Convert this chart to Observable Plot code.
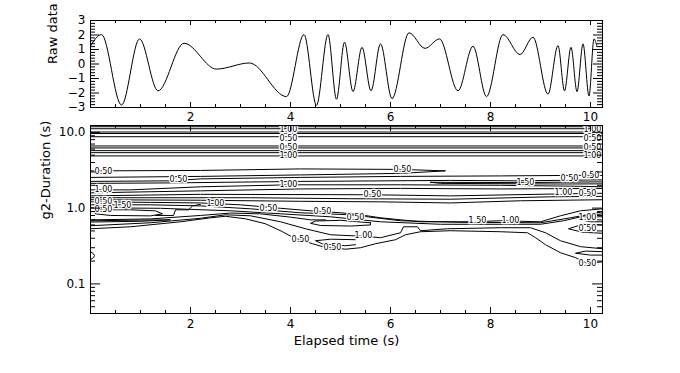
<!DOCTYPE html>
<html><head><meta charset="utf-8">
<script src="https://cdn.jsdelivr.net/npm/d3@7"></script>
<script src="https://cdn.jsdelivr.net/npm/@observablehq/plot@0.6"></script>
<style>
body{margin:0;background:#fff;}
#wrap{position:relative;width:680px;height:373px;background:#fff;overflow:hidden;}
#topPanel,#bottomPanel{position:absolute;left:0;}
#topPanel{top:0;}
#bottomPanel{top:122px;}
</style></head>
<body><div id="wrap"><div id="bottomPanel"></div><div id="topPanel"></div></div>
<script>
// ---------- data ----------
const rawTime  = [0, 0.22, 0.62, 0.98, 1.35, 1.87, 2.52, 3.18, 3.92, 4.27, 4.52, 4.75, 4.92, 5.08, 5.25, 5.43, 5.61, 5.80, 6.03, 6.37, 6.69, 6.98, 7.35, 7.65, 7.92, 8.25, 8.59, 8.85, 9.15, 9.35, 9.48, 9.61, 9.73, 9.85, 9.97, 10.07, 10.13];
const rawValue = [1.25, 2.03, -2.83, 1.73, -1.85, 1.43, -0.35, 0.07, -2.25, 2.03, -2.85, 2.03, -2.43, 1.5, -1.9, 1.15, -1.85, 1.39, -2.39, 2.15, 1.08, 1.73, -1.85, 1.22, -2.25, 2.03, 0.65, 1.85, -2.08, 1.27, -1.85, 1.15, -1.9, 1.39, -2.2, 1.73, 1.2];

const xMajorTicks = [2, 4, 6, 8, 10];
const xMinorTicks = [0.5, 1, 1.5, 2.5, 3, 3.5, 4.5, 5, 5.5, 6.5, 7, 7.5, 8.5, 9, 9.5];
const rawYTicks = [-3, -2, -1, 0, 1, 2, 3];
const rawYMinor = [-2.8, -2.6, -2.4, -2.2, -1.8, -1.6, -1.4, -1.2, -0.8, -0.6, -0.4, -0.2, 0.2, 0.4, 0.6, 0.8, 1.2, 1.4, 1.6, 1.8, 2.2, 2.4, 2.6, 2.8];
const durMajorTicks = [0.1, 1, 10];
const durMinorTicks = [0.05, 0.06, 0.07, 0.08, 0.09, 0.2, 0.3, 0.4, 0.5, 0.6, 0.7, 0.8, 0.9, 2, 3, 4, 5, 6, 7, 8, 9];

// straight contour levels across the whole record (durations, s)
const bandDurations = [11.85, 11.15, 10.09, 9.64, 8.75, 6.60, 6.22, 5.73, 5.39, 4.88];

// contour paths: [time, duration]
const upperContours = [
  [[0,3.10],[2.2,3.14],[4.2,3.29],[6.2,3.24],[7.1,3.10],[6.2,2.87],[4.2,2.74],[2.2,2.62],[0,2.54]],
  [[0,2.25],[1.6,2.29],[2.2,2.43],[4.2,2.54],[6.2,2.62],[8.2,2.66],[9.6,2.70],[10.24,2.70]],
  [[0,2.12],[1.6,2.15],[4.2,2.25],[7.2,2.32],[8.6,2.29],[10.24,2.36]],
  [[6.8,2.19],[8.6,2.17],[10.24,2.22],[10.24,2.09],[9.4,2.08],[7.0,2.12],[6.8,2.19]],
  [[0,1.74],[0.8,1.74],[2.2,1.91],[4.0,2.03],[6.2,2.03],[8.2,2.0],[9.8,1.94],[10.24,1.91]],
  [[0,1.59],[2.2,1.69],[4.2,1.79],[6.2,1.82],[8.2,1.79],[10.24,1.82]],
  [[0,1.45],[2.2,1.52],[5.6,1.50],[7.2,1.45],[9.4,1.54],[10.24,1.57]],
  [[0,1.37],[3.2,1.37],[5.2,1.33],[7.2,1.31],[9.2,1.41],[10.24,1.43]],
  [[0,1.29],[2.2,1.27],[4.2,1.23],[5.8,1.21],[7.2,1.17],[8.6,1.25],[10.24,1.29]]
];
const middleContours = [
  [[0,1.21],[1.2,1.19],[2.2,1.17],[3.0,1.105],[3.8,0.994],[4.4,0.922],[5.0,0.868],[5.4,0.816],[5.8,0.745],[6.6,0.660],[7.6,0.660],[8.2,0.681],[9.0,0.660],[9.4,0.792],[9.8,0.922],[10.24,0.979]],
  [[0,1.105],[1.2,1.105],[2.2,1.07],[3.2,0.979],[4.2,0.868],[5.2,0.816],[6.2,0.681],[7.4,0.65],[9.0,0.641],[9.6,0.745],[10.24,0.894]],
  [[0,1.01],[1.4,0.994],[2.8,0.922],[3.8,0.841],[4.8,0.768],[5.8,0.660],[7.0,0.612],[9.0,0.612],[9.46,0.681],[9.9,0.792],[10.24,0.841]],
  [[0,0.70],[1.2,0.72],[2.2,0.80],[2.8,0.86],[3.4,0.84],[4.0,0.76],[4.4,0.70],[4.7,0.70]],
  [[0,0.655],[1.0,0.67],[1.6,0.70],[1.0,0.695],[0,0.68]],
  [[0.1,0.95],[0.8,0.95],[1.3,0.92],[1.44,0.84],[1.2,0.79],[0.4,0.80],[0.1,0.84],[0.1,0.95]],
  [[1.3,0.80],[1.66,0.80],[1.7,0.95],[1.96,0.95],[2.04,1.07],[2.2,1.12]],
  [[5.6,0.64],[5.0,0.69],[4.5,0.675],[4.4,0.63],[4.6,0.59],[5.2,0.58],[5.6,0.60],[5.6,0.64]],
  [[10.24,0.768],[9.96,0.768],[9.8,0.702],[10.0,0.66],[10.24,0.66]],
  [[10.24,0.60],[9.84,0.61],[9.56,0.534],[9.84,0.48],[10.24,0.466]]
];
const lowerContours = [
  [[0,0.534],[0.8,0.567],[1.8,0.660],[2.4,0.745],[2.7,0.780],[3.1,0.723],[3.5,0.621],[3.84,0.488],[4.06,0.407],[4.44,0.339],[4.64,0.310],[5.1,0.287],[5.4,0.300],[5.7,0.339],[6.1,0.383],[6.3,0.445],[6.6,0.488],[7.2,0.503],[8.2,0.488],[8.74,0.473],[8.9,0.407],[9.1,0.329],[9.4,0.258],[9.7,0.222],[9.94,0.185],[10.24,0.196]],
  [[0,0.585],[1.2,0.641],[2.2,0.734],[2.7,0.816],[3.2,0.792],[3.8,0.660],[4.3,0.534],[4.8,0.445],[5.46,0.425],[5.8,0.407],[6.2,0.473],[6.26,0.567],[6.54,0.567],[6.6,0.503],[7.14,0.534],[8.2,0.551],[8.8,0.551],[9.1,0.473],[9.4,0.371],[9.8,0.310],[10.24,0.291]],
  [[5.3,0.383],[4.8,0.389],[4.5,0.371],[4.64,0.337],[5.1,0.319],[5.3,0.329]],
  [[10.24,0.266],[9.9,0.271],[9.7,0.254],[10.0,0.240],[10.24,0.240]],
  [[0,0.266],[0.06,0.25],[0.08,0.236],[0.06,0.222],[0,0.209]]
];
const contourLabels = [
  [3.96, 11.05, "1.00"], [3.96, 8.41, "0.50"], [3.96, 6.41, "0.50"], [3.96, 4.88, "1.00"],
  [10.04, 11.05, "1.00"], [10.04, 8.41, "0.50"], [10.04, 6.41, "0.50"], [10.04, 4.88, "1.00"],
  [0.26, 3.05, "0.50"], [1.76, 2.36, "0.50"], [6.24, 3.24, "0.50"],
  [0.26, 1.74, "1.00"], [3.96, 2.03, "1.00"], [5.64, 1.50, "0.50"],
  [8.7, 2.15, "1.50"], [10.0, 2.66, "0.50"], [9.58, 2.45, "0.50"],
  [9.46, 1.59, "1.00"], [9.94, 1.54, "0.50"],
  [0.26, 1.22, "0.50"], [0.64, 1.08, "1.50"], [0.26, 0.96, "0.50"],
  [2.5, 1.14, "1.00"], [3.56, 0.994, "0.50"], [4.64, 0.894, "0.50"], [5.3, 0.745, "0.50"],
  [7.74, 0.681, "1.50"], [8.4, 0.681, "1.00"], [9.94, 0.745, "1.00"], [9.94, 0.534, "0.50"],
  [4.2, 0.383, "0.50"], [4.84, 0.300, "0.50"], [5.46, 0.432, "1.00"], [9.94, 0.185, "0.50"]
];

// ---------- layout ----------
const FONT = "DejaVu Sans, sans-serif";
const W = 680, ML = 90, MR = 78;
const FW = W - ML - MR;            // frame width
const topH = 125, topMT = 20, topMB = 18, topFH = topH - topMT - topMB;
const botH = 251, botMT = 3, botMB = 60, botFH = botH - botMT - botMB;
const intFormat = d => d < 0 ? "\u2212" + (-d) : String(d);

function xTicks(fh, major, minor) {
  return [
    Plot.tickX(xMinorTicks, {x: d => d, insetTop: fh - minor, stroke: "black"}),
    Plot.tickX(xMinorTicks, {x: d => d, insetBottom: fh - minor, stroke: "black"}),
    Plot.tickX(xMajorTicks, {x: d => d, insetTop: fh - major, stroke: "black"}),
    Plot.tickX(xMajorTicks, {x: d => d, insetBottom: fh - major, stroke: "black"})
  ];
}
function yTicks(vals, len) {
  return [
    Plot.tickY(vals, {y: d => d, insetRight: FW - len, stroke: "black"}),
    Plot.tickY(vals, {y: d => d, insetLeft: FW - len, stroke: "black"})
  ];
}

const topPlot = Plot.plot({
  width: W, height: topH, marginTop: topMT, marginBottom: topMB, marginLeft: ML, marginRight: MR,
  style: {background: "transparent", fontFamily: FONT, fontSize: "12px", color: "black"},
  x: {domain: [0, 10.24]},
  y: {domain: [-3, 3]},
  marks: [
    Plot.line(rawTime.map((t, i) => ({t, v: rawValue[i]})), {x: "t", y: "v", curve: "monotone-x", stroke: "black", strokeWidth: 1}),
    ...xTicks(topFH, 5, 3),
    ...yTicks(rawYMinor, 5),
    ...yTicks(rawYTicks, 9),
    Plot.frame({stroke: "black"}),
    Plot.axisX({ticks: xMajorTicks, tickSize: 0, tickPadding: 5, label: null, tickFormat: d => String(d), fontSize: 12}),
    Plot.axisY({ticks: rawYTicks, tickSize: 0, tickPadding: 5, label: null, tickFormat: intFormat, fontSize: 12}),
    Plot.text(["Raw data"], {frameAnchor: "left", rotate: -90, dx: -38, fontSize: 13, fill: "black"})
  ]
});

const contourRows = [...upperContours, ...middleContours, ...lowerContours]
  .flatMap((p, i) => p.map(([t, d]) => ({t, d, id: i})));

const bottomPlot = Plot.plot({
  width: W, height: botH, marginTop: botMT, marginBottom: botMB, marginLeft: ML, marginRight: MR,
  style: {background: "transparent", fontFamily: FONT, fontSize: "12px", color: "black"},
  x: {domain: [0, 10.24]},
  y: {type: "log", domain: [0.0407, 12.3]},
  marks: [
    Plot.ruleY(bandDurations, {stroke: "black", strokeWidth: 1}),
    Plot.line(contourRows, {x: "t", y: "d", z: "id", stroke: "black", strokeWidth: 1, clip: true}),
    Plot.text(contourLabels, {x: d => d[0], y: d => d[1], text: d => d[2], fontSize: 8, fill: "black", stroke: "white", strokeWidth: 2.5, clip: true}),
    ...xTicks(botFH, 6, 3),
    ...yTicks(durMinorTicks, 5),
    ...yTicks(durMajorTicks, 10),
    Plot.frame({stroke: "black"}),
    Plot.axisX({ticks: xMajorTicks, tickSize: 0, tickPadding: 6, label: null, tickFormat: d => String(d), fontSize: 12}),
    Plot.axisY({ticks: durMajorTicks, tickSize: 0, tickPadding: 5, label: null, tickFormat: d3.format(".1f"), fontSize: 12}),
    Plot.text(["Elapsed time (s)"], {frameAnchor: "bottom", dy: 31, fontSize: 13, fill: "black"}),
    Plot.text(["g2-Duration (s)"], {frameAnchor: "left", rotate: -90, dx: -45, fontSize: 13, fill: "black"})
  ]
});

document.getElementById("topPanel").appendChild(topPlot);
document.getElementById("bottomPanel").appendChild(bottomPlot);
</script></body></html>
